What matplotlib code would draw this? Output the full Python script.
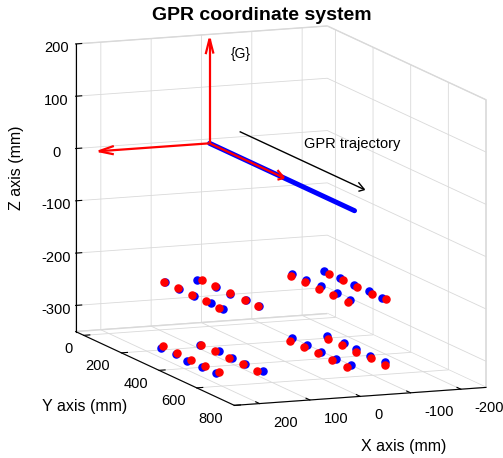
import numpy as np
import matplotlib
matplotlib.use('Agg')
import matplotlib.pyplot as plt

plt.rcParams['font.family'] = ['Liberation Sans', 'DejaVu Sans']
plt.rcParams['axes.unicode_minus'] = False

# target positions (mm): red = reference, blue = estimated
z_upper = -217
z_lower = -340
red_x_upper = [172, 171, 172, 171, 171, 98, 100, 100, 98, 99, -69, -70, -70, -70, -71, -143, -143, -143, -143, -148]
red_y_upper = [216, 289, 364, 437, 509, 224, 295, 375, 448, 523, 246, 319, 395, 470, 543, 253, 329, 402, 478, 544]
blue_x_upper = [171, 172, 172, 169, 168, 108, 100, 101, 97, 98, -79, -80, -83, -83, -82, -145, -147, -145, -146, -146]
blue_y_upper = [221, 300, 376, 457, 522, 224, 303, 378, 452, 527, 224, 296, 370, 453, 529, 220, 301, 380, 456, 528]
red_x_lower = [174, 175, 174, 173, 173, 102, 103, 102, 100, 102, -65, -67, -67, -67, -67, -139, -140, -139, -141, -140]
red_y_lower = [218, 294, 367, 439, 511, 229, 304, 377, 446, 525, 252, 324, 397, 472, 549, 259, 331, 407, 480, 555]
blue_x_lower = [181, 180, 186, 183, 182, 103, 97, 98, 100, 92, -77, -79, -79, -78, -80, -148, -151, -149, -149, -150]
blue_y_lower = [227, 303, 377, 450, 523, 225, 307, 382, 454, 529, 230, 306, 382, 462, 538, 228, 309, 380, 456, 533]

# GPR trajectory along Y
traj_y = [0, 770]
# frame {G} axes lengths (x, y, z)
frame_len = [220, 395, 200]

xlim = (-250, 250)
ylim = (-43, 800)
zlim = (-350, 200)
xticks = [-200, -100, 0, 100, 200]
yticks = [0, 200, 400, 600, 800]
zticks = [-300, -200, -100, 0, 100, 200]

fig = plt.figure(figsize=(5.03, 4.58), dpi=100)
ax = fig.add_axes([0.046, 0.0156, 1, 1], projection='3d', proj_type='ortho', computed_zorder=False)

for axis in (ax.xaxis, ax.yaxis, ax.zaxis):
    axis.set_pane_color((1, 1, 1, 1))
    axis.pane.set_edgecolor((0.85, 0.85, 0.85))
    axis._axinfo['grid']['color'] = (0.85, 0.85, 0.85)
    axis._axinfo['grid']['linewidth'] = 0.6
    axis._axinfo['axisline']['color'] = (0.15, 0.15, 0.15)
    axis._axinfo['axisline']['linewidth'] = 0.9
    axis._axinfo['tick']['inward_factor'] = 0.0
    axis._axinfo['tick']['outward_factor'] = 0.3

n = len(red_x_upper)
ax.scatter(blue_x_upper, blue_y_upper, [z_upper] * n, color='b', s=26, depthshade=False)
ax.scatter(red_x_upper, red_y_upper, [z_upper] * n, color='r', s=26, depthshade=False)
ax.scatter(blue_x_lower, blue_y_lower, [z_lower] * n, color='b', s=26, depthshade=False)
ax.scatter(red_x_lower, red_y_lower, [z_lower] * n, color='r', s=26, depthshade=False)

ax.plot([0, 0], traj_y, [0, 0], color='b', lw=3.6, solid_capstyle='round')

ax.quiver(0, 0, 0, frame_len[0], 0, 0, color='r', lw=1.6, arrow_length_ratio=0.14)
ax.quiver(0, 0, 0, 0, frame_len[1], 0, color='r', lw=1.6, arrow_length_ratio=0.09)
ax.quiver(0, 0, 0, 0, 0, frame_len[2], color='r', lw=1.6, arrow_length_ratio=0.15)
ax.text(-42, 0, 168, '{G}', fontsize=10, ha='left', va='center')

ax.quiver(-41, 50, 28, 0, 663, 0, color='k', lw=1, arrow_length_ratio=0.05)
ax.text(-187, 0, -15, 'GPR trajectory', fontsize=10.5, ha='left', va='center')

ax.set_xlim(*xlim)
ax.set_ylim(*ylim)
ax.set_zlim(*zlim)
ax.set_xticks(xticks)
ax.set_yticks(yticks)
ax.set_zticks(zticks)
ax.set_xticklabels([])
ax.set_yticklabels([])
ax.tick_params(labelsize=10.5, pad=0)

# x / y tick labels placed the way MATLAB offsets them
for t in xticks:
    ax.text(t, ylim[1] + 74, zlim[0] - 24, str(t), fontsize=10.5, ha='left', va='center')
for t in yticks:
    ax.text(xlim[1] + 22, t, zlim[0] - 24, str(t), fontsize=10.5, ha='right', va='center')

ax.set_box_aspect((270.7, 435.6, 293), zoom=1.25)
ax.view_init(elev=10.5, azim=68.6)

fig.text(0.521, 0.967, 'GPR coordinate system', ha='center', va='center', fontsize=14, fontweight='bold')
fig.text(404 / 503, 1 - 446 / 458, 'X axis (mm)', ha='center', va='center', fontsize=11.5)
fig.text(85 / 503, 1 - 406 / 458, 'Y axis (mm)', ha='center', va='center', fontsize=11.5)
fig.text(17 / 503, 1 - 168 / 458, 'Z axis (mm)', ha='center', va='center', fontsize=11.5, rotation=90)

fig.savefig('out.png')
